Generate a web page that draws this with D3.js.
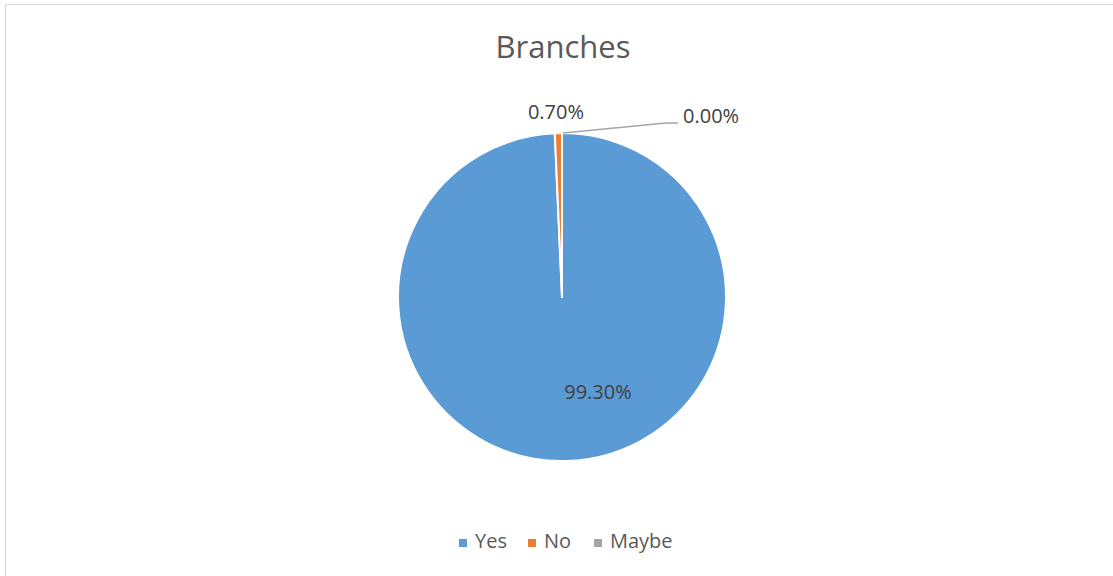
<!DOCTYPE html>
<html>
<head>
<meta charset="utf-8">
<script src="https://cdn.jsdelivr.net/npm/d3@7"></script>
<style>
  body { margin: 0; background: #fff; }
  text { font-family: "Open Sans", "Liberation Sans", sans-serif; }
</style>
</head>
<body>
<div id="chart"></div>
<script>
var categories = ["Yes", "No", "Maybe"];
var values = [99.3, 0.7, 0.0];
var labels = ["99.30%", "0.70%", "0.00%"];
var colors = ["#5b9bd5", "#ed7d31", "#a5a5a5"];

var w = 1113,
    h = 576,
    cx = 562,
    cy = 297,
    r = 164;

var svg = d3.select("#chart")
    .append("svg")
    .attr("width", w)
    .attr("height", h);

// chart area border
svg.append("rect")
    .attr("x", 5.5)
    .attr("y", 4.5)
    .attr("width", w + 10)
    .attr("height", h + 10)
    .style("fill", "#fff")
    .style("stroke", "#d9d9d9")
    .style("stroke-width", 1);

svg.append("text")
    .attr("x", cx + 1)
    .attr("y", 58)
    .attr("text-anchor", "middle")
    .style("font-size", "31px")
    .style("fill", "#595959")
    .text("Branches");

var pie = d3.pie().sort(null).value(function(d) { return d; });
var arcs = pie(values);
var arc = d3.arc().innerRadius(0).outerRadius(r);

var g = svg.append("g")
    .attr("transform", "translate(" + cx + "," + cy + ")");

g.selectAll("path")
    .data(arcs)
    .enter()
    .append("path")
    .attr("d", arc)
    .style("fill", function(d, i) { return colors[i]; })
    .style("stroke", "#fff")
    .style("stroke-width", 2)
    .style("stroke-linejoin", "round");

// data labels
g.append("text")
    .attr("x", 36)
    .attr("y", 102)
    .attr("text-anchor", "middle")
    .style("font-size", "20px")
    .style("fill", "#404040")
    .text(labels[0]);

// "No" label sits just outside the slice
var noOuter = d3.arc().innerRadius(r + 22).outerRadius(r + 22).centroid(arcs[1]);
g.append("text")
    .attr("x", noOuter[0] - 2)
    .attr("y", -178)
    .attr("text-anchor", "middle")
    .style("font-size", "20px")
    .style("fill", "#404040")
    .text(labels[1]);

// "Maybe" label with leader line
var mbEdge = d3.arc().innerRadius(r).outerRadius(r).centroid(arcs[2]);
var leader = [[mbEdge[0] + 1, mbEdge[1]], [104, -174], [116, -174]];
g.append("path")
    .attr("d", d3.line()(leader))
    .style("fill", "none")
    .style("stroke", "#a6a6a6")
    .style("stroke-width", 1.5);
g.append("text")
    .attr("x", 121)
    .attr("y", -174)
    .attr("text-anchor", "start")
    .style("font-size", "20px")
    .style("fill", "#404040")
    .text(labels[2]);

// legend
var legendX = [459, 528, 594];
var legend = svg.selectAll(".legend")
    .data(categories)
    .enter()
    .append("g")
    .attr("class", "legend")
    .attr("transform", function(d, i) { return "translate(" + legendX[i] + ",539)"; });

legend.append("rect")
    .attr("x", 0)
    .attr("y", 0)
    .attr("width", 8)
    .attr("height", 8)
    .style("fill", function(d, i) { return colors[i]; });

legend.append("text")
    .attr("x", 16)
    .attr("y", 9)
    .style("font-size", "20px")
    .style("fill", "#595959")
    .text(function(d) { return d; });
</script>
</body>
</html>
